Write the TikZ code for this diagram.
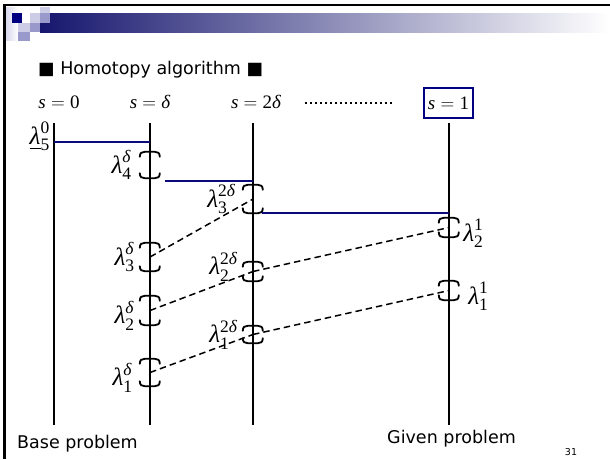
\RequirePackage{fix-cm}
\documentclass[tikz,border=0pt]{standalone}
\usepackage{amsmath}
\usepackage{fontspec}
\setmainfont{Liberation Serif}
\setsansfont{DejaVu Sans}
\usepackage{tikz}
\usetikzlibrary{positioning}
\definecolor{hdnavy}{HTML}{000080}
\definecolor{hdmid}{HTML}{9999CC}
\definecolor{hdsoft}{HTML}{CCCCE6}
\definecolor{hdpale}{HTML}{D8D8EE}
\definecolor{barnavy}{HTML}{16166E}
\definecolor{linkblue}{HTML}{0A0A7A}
\newcommand{\eig}[2]{$\text{\itshape λ}_{\text{#1}}^{\text{#2}}$}
\newcommand{\sv}[1]{$\text{\itshape s}=\text{#1}$}
\begin{document}
\begin{tikzpicture}[x=1pt, y=-1pt,
        axis/.style={line width=2pt, draw=black},
        link/.style={line width=2pt, draw=linkblue},
        track/.style={line width=1.5pt, dash pattern=on 6.5pt off 4pt},
        dotrow/.style={line width=1.8pt, dash pattern=on 1.8pt off 3.2pt},
        brk/.style={minimum width=20pt, inner sep=0pt, draw=none},
        bcap/.style={line width=1.8pt, line cap=round},
        lam/.style={inner sep=0pt, font=\fontsize{25}{28}\selectfont},
        sval/.style={inner sep=0pt, font=\fontsize{19}{22}\selectfont},
        txt/.style={inner sep=0pt, font=\sffamily\fontsize{17.5}{20}\selectfont}]
      \useasboundingbox (0,0) rectangle (610,459);
      \fill[white] (0,0) rectangle (610,459);
      % slide header
      \shade[left color=hdpale, right color=white] (6,7) rectangle (18,40);
      \shade[left color=barnavy, right color=white] (40,13) rectangle (610,32);
      \fill[hdnavy] (12,13) rectangle (22,23);
      \fill[hdsoft] (30,13) rectangle (40,23);
      \fill[hdsoft] (40,7) rectangle (50,13);
      \fill[hdmid] (40,13) rectangle (50,23);
      \fill[hdsoft] (18,23) rectangle (30,32);
      \fill[hdmid] (30,23) rectangle (40,32);
      \fill[hdmid] (18,32) rectangle (30,41);
      \draw[line width=1.8pt] (3,5) -- (610,5);
      \draw[line width=2.6pt] (4.6,4) -- (4.6,459);
      \node[txt, anchor=base west] (title) at (38,74) {■ Homotopy algorithm ■};
      % homotopy steps
      \node[sval, anchor=base] (s0) at (59,108) {\sv{0}};
      \node[sval, anchor=base] (s1d) at (150,108) {\sv{\itshape δ}};
      \node[sval, anchor=base] (s2d) at (256,108) {\sv{2\itshape δ}};
      \node[sval, draw=hdnavy, line width=2pt, minimum width=49pt, minimum height=30pt] (s1) at (448.5,103) {\sv{1}};
      \draw[dotrow, shorten <=24pt, shorten >=31pt] (s2d.east |- s1.west) -- (s1.west);
      \coordinate (a0) at (54,123); \coordinate (a0-end) at (54,425);
      \coordinate (a1) at (150,123); \coordinate (a1-end) at (150,425);
      \coordinate (a2) at (253,123); \coordinate (a2-end) at (253,425);
      \coordinate (a3) at (449,123); \coordinate (a3-end) at (449,425);
      \draw[axis] (a0) -- (a0-end);
      \draw[axis] (a1) -- (a1-end);
      \draw[axis] (a2) -- (a2-end);
      \draw[axis] (a3) -- (a3-end);
      % eigenvalue intervals
      \node[brk, minimum height=26pt] (d4) at (150,165) {};
      \node[brk, minimum height=28pt] (d3) at (150,257) {};
      \node[brk, minimum height=29pt] (d2) at (150,310.5) {};
      \node[brk, minimum height=27pt] (d1) at (150,372.5) {};
      \node[brk, minimum height=28pt] (e3) at (253,199) {};
      \node[brk, minimum height=19pt] (e2) at (253,271.5) {};
      \node[brk, minimum height=17pt] (e1) at (253,334.5) {};
      \node[brk, minimum height=19pt] (g2) at (449,227.5) {};
      \node[brk, minimum height=19pt] (g1) at (449,290.5) {};
      \foreach \b in {d4,d3,d2,d1,e3,e2,e1,g2,g1} {
        \draw[bcap] (\b.north west) ++(0,5) .. controls +(0,-4) and +(-3,0) .. ++(5,-5) -- ++(10,0) .. controls +(3,0) and +(0,-4) .. ++(5,5);
        \draw[bcap] (\b.south west) ++(0,-5) .. controls +(0,4) and +(-3,0) .. ++(5,5) -- ++(10,0) .. controls +(3,0) and +(0,4) .. ++(5,-5);
      }
      \coordinate (h5) at (54,142);
      \coordinate (h4) at (165,181);
      \coordinate (h3) at (262,213);
      \node[lam, left=4pt of h5, yshift=5.5pt] (l5z) {$\underline{\text{\itshape λ}}_{\text{5}}^{\text{0}}$};
      \node[lam, left=8pt of d4] (l4d) {\eig{4}{\itshape δ}};
      \node[lam, left=7pt of e3] (l3e) {\eig{3}{2\itshape δ}};
      \node[lam, left=5pt of d3] (l3d) {\eig{3}{\itshape δ}};
      \node[lam, left=5pt of e2, yshift=5pt] (l2e) {\eig{2}{2\itshape δ}};
      \node[lam, left=5pt of d2, yshift=-5pt] (l2d) {\eig{2}{\itshape δ}};
      \node[lam, left=5pt of e1] (l1e) {\eig{1}{2\itshape δ}};
      \node[lam, left=7pt of d1, yshift=-5pt] (l1d) {\eig{1}{\itshape δ}};
      \node[lam, right=4pt of g2, yshift=-6pt] (l2g) {\eig{2}{1}};
      \node[lam, right=9pt of g1, yshift=-6pt] (l1g) {\eig{1}{1}};
      \draw[link] (h5) -- (h5 -| a1);
      \draw[link] (h4) -- (h4 -| a2);
      \draw[link] (h3) -- (h3 -| a3);
      \draw[track] (d3.center) -- (e3.center);
      \draw[track] (d2.center) -- (e2.center);
      \draw[track] (d1.center) -- (e1.center);
      \draw[track] (e2.center) -- (g2.center);
      \draw[track] (e1.center) -- (g1.center);
      \node[txt, anchor=base west] (base) at (17,448) {Base problem};
      \node[txt, anchor=base west] (given) at (387,443) {Given problem};
      \node[txt, font=\sffamily\fontsize{9.5}{11}\selectfont, anchor=base] (pgno) at (571,455) {31};
    \end{tikzpicture}
\end{document}
